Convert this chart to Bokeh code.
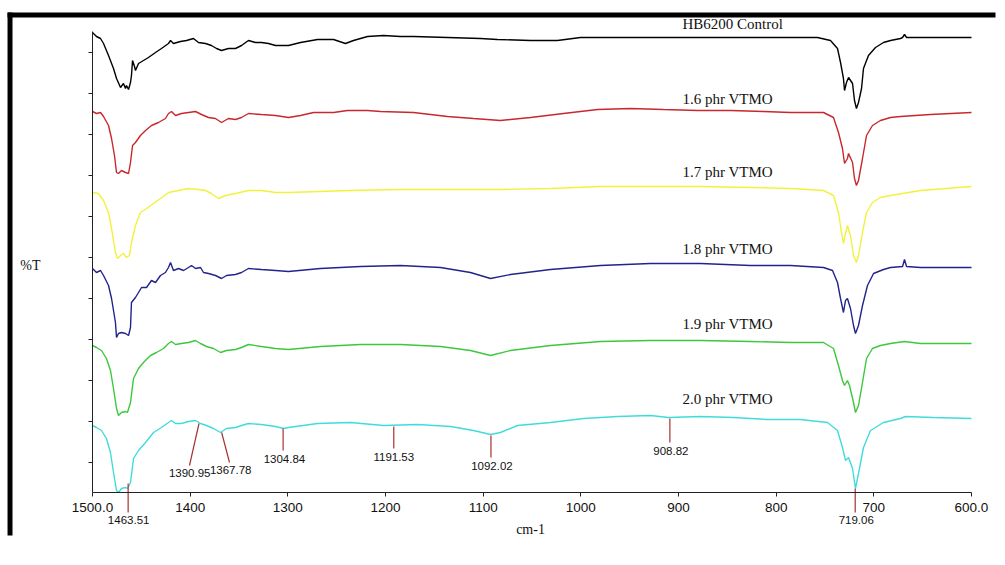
from bokeh.plotting import figure
from bokeh.models import Range1d, FixedTicker, BoxAnnotation
from bokeh.core.properties import value
from bokeh.embed import file_html
from bokeh.resources import INLINE

# ---------------- data (y = stacked %T in display units) ----------------
ctrl_wn = [1500, 1495.9, 1491.8, 1488.7, 1483.6, 1478.5, 1475.4, 1471.3, 1468.3, 1466.2, 1465.2, 1463.1,
           1461.1, 1460.1, 1459.0, 1457.0, 1456.0, 1452.9, 1447.8, 1442.7, 1435.5, 1429.4, 1422.2, 1420.1,
           1417.1, 1409.9, 1403.8, 1396.6, 1391.5, 1384.3, 1378.2, 1373.0, 1367.9, 1360.8, 1353.6, 1347.4,
           1340.3, 1333.1, 1327.0, 1319.8, 1312.6, 1299.3, 1287.0, 1269.6, 1253.2, 1241.0, 1232.8, 1218.4,
           1202.1, 1184.6, 1171.3, 1136.5, 1102.7, 1085.3, 1051.5, 1023.9, 1000.4, 966.6, 931.7, 898.0,
           864.2, 829.4, 785.3, 757.7, 744.4, 737.2, 734.1, 731.1, 730.0, 728.0, 725.9, 721.8, 719.8,
           717.8, 715.7, 712.6, 710.6, 705.5, 698.3, 690.1, 682.9, 672.7, 670.6, 668.6, 666.5, 652.2, 600]
ctrl_t = [460, 456, 454, 449, 437, 424, 414, 405, 409, 404, 407, 403,
          410, 417, 432, 426, 422, 429, 432, 435, 440, 444, 449, 452,
          449, 451, 452, 454, 450, 449, 447, 444, 442, 444, 444, 447,
          452, 450, 450, 449, 447, 447, 450, 453, 453, 449, 452, 456,
          457, 456, 456, 455, 454, 453, 452, 452, 455, 455, 455, 455,
          455, 455, 455, 455, 452, 444, 430, 414, 402, 410, 415, 409, 392,
          384, 390, 404, 424, 437, 445, 450, 452, 454, 455, 458, 455, 455, 455]

p16_wn = [1500, 1495.9, 1491.8, 1488.7, 1483.6, 1480.5, 1477.5, 1475.4, 1473.4, 1470.3, 1466.2, 1463.1,
          1461.1, 1459.0, 1456.0, 1450.9, 1445.7, 1439.6, 1432.4, 1425.3, 1422.2, 1419.1, 1415.0, 1408.9,
          1401.7, 1394.5, 1388.4, 1381.2, 1374.1, 1367.9, 1360.8, 1353.6, 1347.4, 1340.3, 1327.0, 1312.6,
          1299.3, 1287.0, 1273.7, 1253.2, 1238.9, 1218.4, 1205.1, 1171.3, 1136.5, 1109.9, 1082.3, 1051.5,
          1017.8, 982.9, 949.2, 915.4, 880.6, 846.8, 812.9, 785.3, 751.5, 741.3, 736.2, 732.1, 730.0,
          727.0, 725.9, 721.8, 719.8, 717.8, 715.7, 711.6, 707.5, 701.4, 693.2, 682.9, 672.7, 642.0, 600]
p16_t = [381, 379, 380, 376, 367, 354, 337, 320, 319, 322, 320, 319,
         330, 347, 350, 357, 362, 367, 370, 374, 379, 381, 377, 379,
         380, 381, 378, 375, 374, 370, 374, 373, 375, 379, 378, 377,
         375, 377, 380, 380, 382, 382, 381, 380, 376, 374, 372, 375,
         379, 383, 384, 383, 382, 382, 381, 380, 380, 375, 360, 344, 329,
         334, 339, 330, 314, 307, 312, 334, 357, 367, 372, 375, 376, 378, 380]

p17_wn = [1500, 1493.9, 1488.7, 1483.6, 1480.5, 1476.5, 1474.4, 1471.3, 1468.3, 1465.2, 1462.1, 1460.1,
          1456.0, 1450.9, 1444.7, 1437.5, 1430.4, 1422.2, 1411.9, 1401.7, 1391.5, 1384.3, 1378.2, 1371.0,
          1363.8, 1353.6, 1340.3, 1327.0, 1312.6, 1299.3, 1235.8, 1184.6, 1133.4, 1082.3, 1031.1, 979.9,
          928.7, 877.5, 826.3, 785.3, 751.5, 741.3, 736.2, 733.1, 731.1, 729.0, 727.0, 723.9, 720.8,
          717.8, 715.7, 711.6, 707.5, 701.4, 693.2, 682.9, 652.2, 600]
p17_t = [300, 299, 292, 280, 264, 240, 234, 237, 239, 235, 237, 250,
         267, 280, 284, 289, 294, 300, 302, 304, 303, 302, 299, 294,
         297, 299, 302, 302, 300, 300, 302, 303, 303, 303, 304, 306,
         306, 306, 305, 304, 302, 297, 280, 260, 249, 259, 267, 257, 237,
         230, 237, 260, 280, 290, 295, 297, 302, 306]

p18_wn = [1500, 1495.9, 1491.8, 1488.7, 1483.6, 1480.5, 1476.5, 1475.4, 1473.4, 1470.3, 1466.2, 1463.1,
          1461.1, 1460.1, 1456.0, 1452.9, 1449.8, 1444.7, 1439.6, 1435.5, 1430.4, 1425.3, 1422.2, 1420.1,
          1417.1, 1411.9, 1406.8, 1401.7, 1398.6, 1394.5, 1389.4, 1386.3, 1381.2, 1374.1, 1367.9, 1362.8,
          1353.6, 1347.4, 1340.3, 1327.0, 1312.6, 1299.3, 1266.6, 1225.6, 1184.6, 1143.7, 1113.0, 1092.5,
          1072.0, 1031.1, 979.9, 928.7, 877.5, 826.3, 785.3, 751.5, 742.3, 737.2, 734.1, 731.1, 729.0,
          727.0, 723.9, 720.8, 718.8, 715.7, 711.6, 706.5, 700.3, 690.1, 682.9, 670.6, 668.6, 666.5, 652.2, 600]
p18_t = [224, 220, 222, 217, 207, 194, 170, 155, 159, 160, 159, 157,
         165, 190, 195, 200, 205, 205, 212, 210, 217, 220, 225, 230,
         222, 224, 222, 225, 227, 224, 225, 220, 219, 217, 214, 217,
         218, 220, 224, 223, 222, 221, 224, 226, 227, 225, 220, 214,
         218, 223, 227, 229, 229, 227, 227, 225, 222, 210, 194, 180, 192,
         194, 184, 167, 159, 167, 187, 207, 219, 223, 225, 226, 233, 226, 225, 225]

p19_wn = [1500, 1495.9, 1490.8, 1485.7, 1481.6, 1478.5, 1475.4, 1473.4, 1470.3, 1466.2, 1464.2, 1461.1,
          1458.0, 1452.9, 1447.8, 1440.6, 1434.5, 1427.3, 1422.2, 1419.1, 1415.0, 1408.9, 1401.7, 1394.5,
          1389.4, 1383.3, 1376.1, 1368.9, 1362.8, 1353.6, 1347.4, 1340.3, 1327.0, 1312.6, 1299.3, 1266.6,
          1225.6, 1184.6, 1143.7, 1113.0, 1092.5, 1072.0, 1031.1, 979.9, 928.7, 877.5, 826.3, 785.3,
          751.5, 741.3, 736.2, 732.1, 730.0, 727.0, 724.9, 720.8, 718.8, 715.7, 711.6, 707.5, 701.4,
          693.2, 682.9, 668.6, 652.2, 600]
p19_t = [147, 145, 142, 134, 122, 104, 84, 77, 80, 81, 80, 90,
         114, 124, 130, 137, 140, 144, 149, 151, 148, 149, 150, 152,
         149, 146, 144, 140, 142, 143, 145, 148, 146, 144, 143, 146,
         148, 148, 146, 142, 137, 142, 147, 151, 152, 152, 151, 150,
         150, 144, 127, 112, 107, 112, 107, 90, 80, 87, 110, 134, 144,
         147, 149, 151, 149, 149]

p20_wn = [1500, 1495.9, 1490.8, 1485.7, 1481.6, 1478.5, 1475.4, 1473.4, 1470.3, 1466.2, 1464.2, 1461.1,
          1458.0, 1452.9, 1445.7, 1437.5, 1429.4, 1422.2, 1419.1, 1415.0, 1408.9, 1401.7, 1394.5, 1389.4,
          1383.3, 1376.1, 1368.9, 1362.8, 1353.6, 1347.4, 1340.3, 1327.0, 1312.6, 1304.4, 1299.3, 1269.6,
          1235.8, 1202.1, 1167.2, 1133.4, 1109.9, 1092.5, 1082.3, 1064.9, 1031.1, 997.3, 962.5, 928.7,
          910.3, 877.5, 843.7, 808.9, 775.1, 747.4, 737.2, 732.1, 729.0, 725.9, 721.8, 718.8, 715.7,
          710.6, 703.4, 690.1, 672.7, 667.5, 638.9, 600]
p20_t = [67, 65, 62, 54, 40, 20, 2, 0, 4, 5, 4, 10,
         34, 42, 50, 60, 65, 70, 72, 69, 69, 71, 72, 69,
         67, 64, 60, 64, 65, 67, 69, 68, 66, 64, 65, 69,
         70, 67, 68, 66, 62, 58, 60, 67, 70, 74, 76, 77,
         75, 76, 75, 73, 73, 70, 62, 45, 32, 35, 24, 4, 19,
         45, 62, 70, 74, 76, 75, 74]

series_names = ["HB6200 Control", "1.6 phr VTMO", "1.7 phr VTMO", "1.8 phr VTMO", "1.9 phr VTMO", "2.0 phr VTMO"]
series_wn = [ctrl_wn, p16_wn, p17_wn, p18_wn, p19_wn, p20_wn]
series_t = [ctrl_t, p16_t, p17_t, p18_t, p19_t, p20_t]

peak_wn = [1463.51, 1390.95, 1367.78, 1304.84, 1191.53, 1092.02, 908.82, 719.06]
peak_text = ["1463.51", "1390.95", "1367.78", "1304.84", "1191.53", "1092.02", "908.82", "719.06"]

x_ticks = [1500, 1400, 1300, 1200, 1100, 1000, 900, 800, 700, 600]
x_tick_text = {1500: "1500.0", 600: "600.0"}
y_ticks = [30, 71, 112, 153, 194, 235, 276, 317, 358, 399, 440]

# ---------------- layout / style ----------------
colors = ["#000000", "#c8282d", "#f2f23a", "#23238c", "#3cc83c", "#40dcdc"]
label_x = [895.9] * 6
label_y = [469, 393.5, 321, 244, 169, 94]
peak_top = [9, 69, 60, 64, 66, 57, 74, 4]
peak_bottom = [-20, 27, 30, 42, 44, 35, 50, -20]
peak_bottom_wn = [1463.51, 1400.7, 1359.7, 1304.84, 1191.53, 1092.02, 908.82, 719.06]
peak_label_wn = [1463.0, 1400.5, 1358.5, 1303.5, 1191.5, 1091.0, 907.8, 718.0]
peak_label_y = [-27, 20, 23, 34, 36, 27, 42, -27]

PX = 900.0 / 879.0  # cm-1 per pixel
p = figure(frame_width=995, frame_height=535,
           x_range=Range1d(1500 + 92 * PX, 600 - 24 * PX), y_range=Range1d(-43, 492),
           x_axis_location="below", y_axis_location="right",
           output_backend="svg", toolbar_location=None, tools="", title=None)
p.min_border_left = 0
p.min_border_top = 0
p.min_border_right = 5
p.min_border_bottom = 30
p.outline_line_color = None
p.grid.visible = False
p.background_fill_color = "white"
p.border_fill_color = "white"

xa = p.xaxis[0]
xa.fixed_location = 0
xa.bounds = (1500, 600)
xa.ticker = FixedTicker(ticks=x_ticks)
xa.major_label_overrides = x_tick_text
xa.major_tick_in = 0
xa.major_tick_out = 4
xa.minor_tick_line_color = None
xa.major_label_standoff = 6
xa.major_label_text_font = "Liberation Sans"
xa.major_label_text_font_size = "13.5px"
xa.major_label_text_color = "#111111"
xa.axis_line_color = "#222222"
xa.major_tick_line_color = "#222222"

ya = p.yaxis[0]
ya.fixed_location = 1500
ya.bounds = (0, 461)
ya.ticker = FixedTicker(ticks=y_ticks)
ya.major_label_overrides = {t: "" for t in y_ticks}
ya.major_label_standoff = 0
ya.major_tick_in = 4
ya.major_tick_out = 0
ya.minor_tick_line_color = None
ya.axis_line_color = "#222222"
ya.major_tick_line_color = "#222222"

for wn, t, c in zip(series_wn, series_t, colors):
    p.line(wn, t, line_color=c, line_width=1.4)

p.text(x=label_x, y=label_y, text=series_names, text_font=value("Liberation Serif"),
       text_font_size="15px", text_baseline="middle", text_align="left", text_color="#111111")

p.segment(x0=peak_wn, y0=peak_top, x1=peak_bottom_wn, y1=peak_bottom,
          line_color="#a83232", line_width=1.2)
p.text(x=peak_label_wn, y=peak_label_y, text=peak_text, text_font=value("Liberation Sans"),
       text_font_size="11.5px", text_align="center", text_baseline="middle", text_color="#111111")

p.text(x=[1563.5], y=[227], text=["%T"], text_font=value("Liberation Serif"), text_font_size="14px",
       text_align="center", text_baseline="middle", text_color="#111111")
p.text(x=[1051.5], y=[-37], text=["cm-1"], text_font=value("Liberation Serif"), text_font_size="14px",
       text_align="center", text_baseline="middle", text_color="#111111")

# black frame bars of the original screenshot
p.add_layout(BoxAnnotation(left=1587.0, right=560, bottom=475, top=480, fill_color="black",
                           fill_alpha=1, line_color=None))
p.add_layout(BoxAnnotation(left=1587.0, right=1581.9, bottom=-80, top=480, fill_color="black",
                           fill_alpha=1, line_color=None))

open("out.html", "w").write(file_html(p, INLINE))
